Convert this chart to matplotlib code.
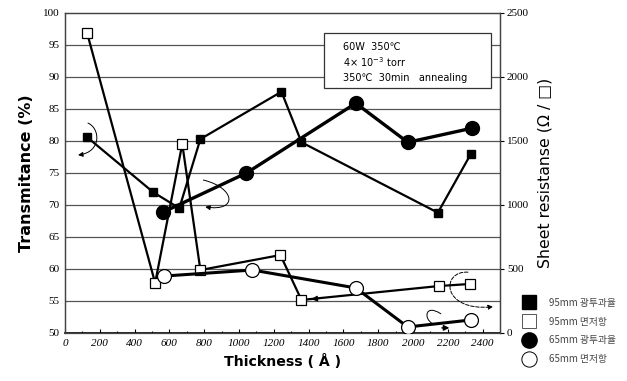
import matplotlib.pyplot as plt
from matplotlib.lines import Line2D
from matplotlib.patches import Rectangle, FancyArrowPatch
from matplotlib.path import Path

# 95mm target: transmittance (left axis) and sheet resistance (right axis)
thick_t95 = [127, 507, 657, 778, 1244, 1359, 2143, 2333]
trans_95 = [80.6, 72.0, 69.5, 80.3, 87.7, 79.8, 68.8, 78.0]
thick_r95 = [127, 518, 674, 778, 1238, 1359, 2149, 2327]
res_95 = [2344, 391, 1477, 492, 609, 258, 367, 383]

# 65mm target
thick_t65 = [565, 1043, 1671, 1970, 2339]
trans_65 = [68.9, 75.0, 85.9, 79.8, 82.0]
thick_r65 = [570, 1077, 1671, 1970, 2333]
res_65 = [445, 492, 352, 47, 102]

legend_labels = ['95mm 광투과율', '95mm 면저항', '65mm 광투과율', '65mm 면저항']
x_ticks = list(range(0, 2401, 200))
left_ticks = list(range(50, 101, 5))
right_ticks = list(range(0, 2501, 500))

serif = 'Liberation Serif'
sans = ['DejaVu Sans']

fig = plt.figure(figsize=(6.27, 3.81), dpi=100)
ax = fig.add_axes([65/627, 1 - 333/381, 435/627, 320/381])
ax2 = ax.twinx()

ax.set_xlim(0, 2500)
ax.set_ylim(50, 100)
ax2.set_ylim(0, 2500)
ax.set_xticks(x_ticks)
ax.set_xticks(range(0, 2501, 100), minor=True)
ax.set_yticks(left_ticks)
ax2.set_yticks(right_ticks)

ax.set_xticklabels([str(t) for t in x_ticks], fontfamily=serif, fontstyle='italic', fontsize=8)
ax.set_yticklabels([str(t) for t in left_ticks], fontfamily=serif, fontsize=8)
ax2.set_yticklabels([str(t) for t in right_ticks], fontfamily=serif, fontsize=8)

ax.tick_params(axis='x', which='both', direction='in', length=3, width=0.8, pad=4)
ax.tick_params(axis='x', which='minor', length=1.5)
ax.tick_params(axis='y', length=0, pad=4)
ax2.tick_params(axis='y', direction='out', length=3, width=0.8, pad=2)

for a in (ax, ax2):
    for s in a.spines.values():
        s.set_color('#444')
        s.set_linewidth(0.9)
ax.spines['bottom'].set_color('black')
ax.spines['bottom'].set_linewidth(1.2)

# horizontal grid
for v in left_ticks[1:-1]:
    ax.axhline(v, color='#555', lw=0.9, zorder=0)

ax.set_xlabel('Thickness ( Å )', fontfamily=sans, fontweight='bold', fontsize=10.2, labelpad=5)
ax.set_ylabel('Transmitance (%)', fontfamily=sans, fontweight='bold', fontsize=11.5, labelpad=6)
ax2.set_ylabel('Sheet resistanse (Ω / □)', fontfamily=sans, fontsize=11.3, labelpad=6)

# transmittance series
ax.plot(thick_t95, trans_95, color='black', lw=1.6, marker='s', ms=6,
        mfc='black', mec='black', zorder=3)
ax.plot(thick_t65, trans_65, color='black', lw=2.4, marker='o', ms=10,
        mfc='black', mec='black', zorder=3)

# sheet resistance series
ax2.plot(thick_r95, res_95, color='black', lw=1.6, marker='s', ms=6.5,
         mfc='white', mec='black', mew=0.9, zorder=3)
ax2.plot(thick_r65, res_65, color='black', lw=2.2, marker='o', ms=10,
         mfc='white', mec='black', mew=0.9, zorder=3)


def curved_arrow(pts, style='-|>', ls='-'):
    codes = [Path.MOVETO, Path.CURVE4, Path.CURVE4, Path.CURVE4]
    p = FancyArrowPatch(path=Path(pts, codes), arrowstyle=style, color='black',
                        lw=0.7, ls=ls, mutation_scale=7, transform=ax.transData)
    ax.add_patch(p)


# curved arrows pointing at the axis each series belongs to
curved_arrow([(132, 82.8), (202, 82.0), (213, 78.3), (75, 77.8)])
curved_arrow([(795, 73.9), (979, 72.7), (997, 68.9), (806, 69.7)])
curved_arrow([(2316, 59.5), (2160, 59.8), (2160, 53.3), (2460, 54.1)], ls='--')
curved_arrow([(2160, 53.0), (2070, 54.6), (2060, 52.3), (2110, 51.5)], style='-')

# small arrowheads sitting on the resistance lines
ax.annotate('', xy=(1400, 55.25), xytext=(1480, 55.45),
            arrowprops=dict(arrowstyle='-|>', color='black', lw=1.0, mutation_scale=8))
ax.annotate('', xy=(2225, 50.8), xytext=(2150, 50.8),
            arrowprops=dict(arrowstyle='-|>', color='black', lw=1.0, mutation_scale=8))

# process conditions box
box = Rectangle((324/627, 1 - 88/381), 167/627, 55/381, transform=fig.transFigure,
                fill=True, fc='white', ec='#333', lw=0.9, zorder=5)
fig.add_artist(box)
cond = ['60W  350℃', '4× 10$^{-3}$ torr', '350℃  30min   annealing']
for i, line in enumerate(cond):
    fig.text(343/627, 1 - (47 + 15.5 * i)/381, line, fontsize=7,
             family=['DejaVu Sans'], va='center', zorder=6)

handles = [
    Line2D([], [], ls='none', marker='s', ms=10, mfc='black', mec='black'),
    Line2D([], [], ls='none', marker='s', ms=10, mfc='white', mec='#555', mew=0.7),
    Line2D([], [], ls='none', marker='o', ms=11, mfc='black', mec='black'),
    Line2D([], [], ls='none', marker='o', ms=11, mfc='white', mec='black', mew=0.7),
]
leg = fig.legend(handles, legend_labels, loc='upper left',
                 bbox_to_anchor=(516/627, 1 - 291/381), frameon=False,
                 prop={'family': ['Noto Sans CJK KR', 'DejaVu Sans'], 'size': 7},
                 labelspacing=0.9, handlelength=1.2, handletextpad=1.5,
                 borderpad=0.2)
for t in leg.get_texts():
    t.set_color('#444')

fig.savefig('out.png', dpi=100)
